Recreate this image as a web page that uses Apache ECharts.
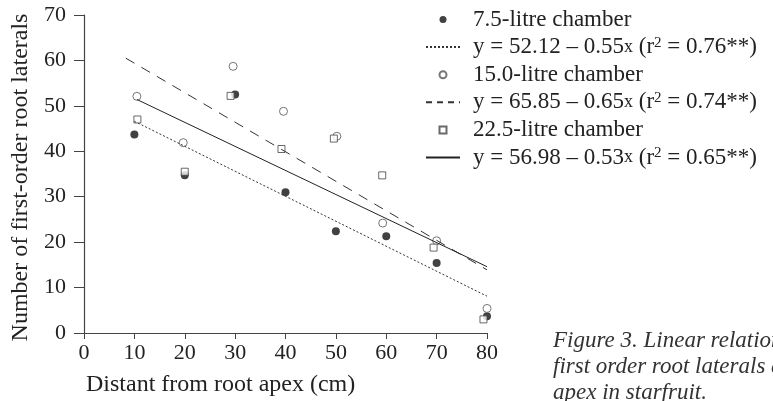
<!DOCTYPE html>
<html>
<head>
<meta charset="utf-8">
<script src="https://cdn.jsdelivr.net/npm/echarts@6/dist/echarts.min.js"></script>
<style>
  html, body { margin: 0; padding: 0; background: #fff; }
  #main { width: 773px; height: 401px; }
</style>
</head>
<body>
<div id="main"></div>
<script>
// distance from root apex (cm) and counts
var x75 = [10, 20, 30, 40, 50, 60, 70, 80];
var y75 = [43.7, 34.7, 52.5, 31.0, 22.4, 21.3, 15.4, 3.7];
var x150 = [10.5, 19.7, 29.6, 39.6, 50.2, 59.3, 70, 80];
var y150 = [52.1, 41.9, 58.7, 48.8, 43.3, 24.2, 20.3, 5.4];
var x225 = [10.6, 20, 29.1, 39.2, 49.6, 59.2, 69.4, 79.3];
var y225 = [47.0, 35.5, 52.2, 40.5, 42.8, 34.7, 18.8, 3.0];

// fitted line end points
var fit75 = [[10, 46.6], [80, 8.1]];
var fit150 = [[8.3, 60.5], [80, 13.9]];
var fit225 = [[10.5, 51.4], [80, 14.6]];

var names = ['7.5-litre chamber', 'y = 52.12 – 0.55x (r2 = 0.76**)',
             '15.0-litre chamber', 'y = 65.85 – 0.65x (r2 = 0.74**)',
             '22.5-litre chamber', 'y = 56.98 – 0.53x (r2 = 0.65**)'];
var richNames = {};
richNames[names[1]] = 'y = 52.12 – 0.55{s|x} (r{sup|2} = 0.76**)';
richNames[names[3]] = 'y = 65.85 – 0.65{s|x} (r{sup|2} = 0.74**)';
richNames[names[5]] = 'y = 56.98 – 0.53{s|x} (r{sup|2} = 0.65**)';

var xTicks = [0, 10, 20, 30, 40, 50, 60, 70, 80];
var yTicks = [0, 10, 20, 30, 40, 50, 60, 70];

function zip(a, b) {
  var out = [];
  for (var i = 0; i < a.length; i++) out.push([a[i], b[i]]);
  return out;
}

var font = 'Liberation Serif';
var ink = '#222';
var clear = 'rgba(0,0,0,0)';

var myChart = echarts.init(document.getElementById('main'));
var option = {
  animation: false,
  backgroundColor: '#fff',
  textStyle: { fontFamily: font, color: ink },
  grid: { left: 84, right: 286, top: 15, bottom: 68 },
  xAxis: {
    type: 'value', min: xTicks[0], max: xTicks[xTicks.length - 1], interval: 10,
    axisLine: { lineStyle: { color: '#444', width: 1.2 } },
    axisTick: { length: 6, lineStyle: { color: '#444' } },
    axisLabel: { fontFamily: font, fontSize: 22, color: ink, margin: 9 },
    splitLine: { show: false }
  },
  yAxis: {
    type: 'value', min: yTicks[0], max: yTicks[yTicks.length - 1], interval: 10,
    name: 'Number of first-order root laterals',
    nameLocation: 'middle', nameGap: 48,
    nameTextStyle: { fontFamily: font, fontSize: 24, color: ink, padding: [0, 7, 0, 0] },
    axisLine: { lineStyle: { color: '#444', width: 1.2 } },
    axisTick: { length: 10, lineStyle: { color: '#444' } },
    axisLabel: { fontFamily: font, fontSize: 22, color: ink, margin: 18 },
    splitLine: { show: false }
  },
  legend: {
    orient: 'vertical', left: 420, top: 3,
    itemWidth: 34, itemHeight: 7, itemGap: 4.6,
    data: [
      { name: names[0], icon: 'circle' },
      { name: names[1], lineStyle: { type: [2, 2] } },
      { name: names[2], icon: 'circle' },
      { name: names[3], lineStyle: { type: [6, 5] } },
      { name: names[4], icon: 'path://M0,0L10,0L10,10L0,10Z' },
      { name: names[5] }
    ],
    textStyle: {
      fontFamily: font, fontSize: 23, lineHeight: 23, color: ink, padding: [0, 0, 0, 8],
      rich: {
        s: { fontFamily: font, fontSize: 18, lineHeight: 18, color: ink },
        sup: { fontFamily: font, fontSize: 15, lineHeight: 15, color: ink, verticalAlign: 'top' }
      }
    },
    formatter: function (n) { return richNames[n] || n; }
  },
  graphic: [
    { type: 'text', left: 86, top: 373,
      style: { text: 'Distant from root apex (cm)', font: '24px "Liberation Serif"', fill: ink } },
    { type: 'text', left: 553, top: 328,
      style: { text: 'Figure 3. Linear relationship between the number of\nfirst order root laterals and the distance from root\napex in starfruit.',
               font: 'italic 23px "Liberation Serif"', fill: '#333', lineHeight: 26 } }
  ],
  series: [
    { name: names[0], type: 'scatter', data: zip(x75, y75), symbol: 'circle', symbolSize: 8,
      itemStyle: { color: '#111' } },
    { name: names[1], type: 'line', data: fit75, symbol: 'none',
      itemStyle: { color: clear },
      lineStyle: { color: '#333', width: 1, type: [2, 2] } },
    { name: names[2], type: 'scatter', data: zip(x150, y150), symbol: 'circle', symbolSize: 8,
      itemStyle: { color: '#fff', borderColor: '#555', borderWidth: 1 } },
    { name: names[3], type: 'line', data: fit150, symbol: 'none',
      itemStyle: { color: clear },
      lineStyle: { color: '#333', width: 1, type: [10, 8] } },
    { name: names[4], type: 'scatter', data: zip(x225, y225), symbol: 'rect', symbolSize: 7,
      itemStyle: { color: '#fff', borderColor: '#444', borderWidth: 1 } },
    { name: names[5], type: 'line', data: fit225, symbol: 'none',
      itemStyle: { color: clear },
      lineStyle: { color: '#222', width: 1, type: 'solid' } }
  ]
};
myChart.setOption(option);
</script>
</body>
</html>
